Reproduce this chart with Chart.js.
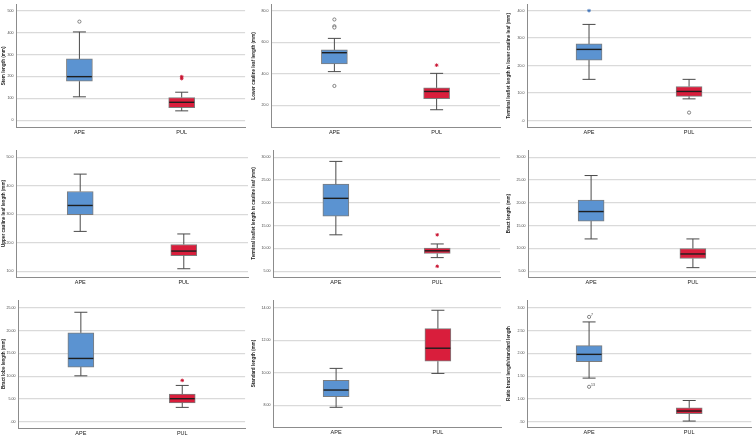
<!DOCTYPE html>
<html><head><meta charset="utf-8">
<script src="https://cdn.jsdelivr.net/npm/chart.js@4"></script>
<style>
html,body{margin:0;padding:0;background:#fff;width:756px;height:435px;overflow:hidden;position:relative;}
canvas{position:absolute;}
</style></head><body>
<script>
const categories = ['APE', 'PUL'];
const axisTitles = [
  'Stem length (mm)',
  'Lower cauline leaf length (mm)',
  'Terminal leaflet length in lower cauline leaf (mm)',
  'Upper cauline leaf length (mm)',
  'Terminal leaflet length in cauline leaf (mm)',
  'Bract length (mm)',
  'Bract lobe length (mm)',
  'Standard length (mm)',
  'Ratio bract length/standard length'
];
// box statistics: [lower whisker, Q1, median, Q3, upper whisker]
const stemAPE = [107, 178, 199, 280, 403];
const stemPUL = [43, 58, 82, 104, 128];
const lowerLeafAPE = [41.3, 46.2, 53.3, 55.1, 62.4];
const lowerLeafPUL = [17.1, 24.1, 28.7, 31.0, 40.2];
const lowerTermAPE = [15.0, 22.0, 25.9, 27.9, 35.0];
const lowerTermPUL = [7.9, 8.8, 10.6, 12.4, 15.0];
const upperLeafAPE = [24.0, 29.9, 33.1, 38.0, 44.1];
const upperLeafPUL = [10.9, 15.5, 17.1, 19.4, 23.1];
const caulTermAPE = [13.0, 17.1, 21.0, 24.1, 29.1];
const caulTermPUL = [8.0, 8.9, 9.5, 10.1, 11.0];
const bractAPE = [12.1, 16.0, 18.1, 20.6, 26.0];
const bractPUL = [5.8, 7.8, 8.8, 10.0, 12.1];
const lobeAPE = [10.1, 12.0, 13.9, 19.5, 24.0];
const lobePUL = [3.2, 4.2, 5.1, 6.1, 8.0];
const standardAPE = [7.88, 8.53, 8.94, 9.53, 10.27];
const standardPUL = [9.96, 10.71, 11.51, 12.71, 13.84];
const ratioAPE = [1.46, 1.82, 1.98, 2.17, 2.69];
const ratioPUL = [0.52, 0.68, 0.74, 0.81, 0.97];
// outliers (circles) and extreme values (stars)
const stemOutAPE = [450];
const stemExtPUL = [199, 190];
const lowerLeafOutAPE = [74.4, 70.1, 69.3, 32.2];
const lowerLeafExtPUL = [45.4];
const lowerTermExtAPE = [40.0];
const lowerTermOutPUL = [2.9];
const caulTermExtPUL = [13.0, 6.1];
const lobeExtPUL = [9.1];
const ratioOutAPE = [2.80, 1.27];
const ratioOutLabels = ['7', '13'];
// tick values and labels
const stemTicks = [0, 100, 200, 300, 400, 500];
const stemTickLabels = ['0', '100', '200', '300', '400', '500'];
const lowerLeafTicks = [20, 40, 60, 80];
const lowerLeafTickLabels = ['20.0', '40.0', '60.0', '80.0'];
const lowerTermTicks = [0, 10, 20, 30, 40];
const lowerTermTickLabels = ['.0', '10.0', '20.0', '30.0', '40.0'];
const upperLeafTicks = [10, 20, 30, 40, 50];
const upperLeafTickLabels = ['10.0', '20.0', '30.0', '40.0', '50.0'];
const caulTermTicks = [5, 10, 15, 20, 25, 30];
const caulTermTickLabels = ['5.00', '10.00', '15.00', '20.00', '25.00', '30.00'];
const bractTicks = [5, 10, 15, 20, 25, 30];
const bractTickLabels = ['5.00', '10.00', '15.00', '20.00', '25.00', '30.00'];
const lobeTicks = [0, 5, 10, 15, 20, 25];
const lobeTickLabels = ['.00', '5.00', '10.00', '15.00', '20.00', '25.00'];
const standardTicks = [8, 10, 12, 14];
const standardTickLabels = ['8.00', '10.00', '12.00', '14.00'];
const ratioTicks = [0.5, 1, 1.5, 2, 2.5, 3];
const ratioTickLabels = ['.50', '1.00', '1.50', '2.00', '2.50', '3.00'];

const panels = [
  {ape: stemAPE, pul: stemPUL, outA: stemOutAPE, outP: [], extA: [], extP: stemExtPUL, ticks: stemTicks, labels: stemTickLabels, range: [-30.7, 526.3]},
  {ape: lowerLeafAPE, pul: lowerLeafPUL, outA: lowerLeafOutAPE, outP: [], extA: [], extP: lowerLeafExtPUL, ticks: lowerLeafTicks, labels: lowerLeafTickLabels, range: [6.14, 83.66]},
  {ape: lowerTermAPE, pul: lowerTermPUL, outA: [], outP: lowerTermOutPUL, extA: lowerTermExtAPE, extP: [], ticks: lowerTermTicks, labels: lowerTermTickLabels, range: [-2.34, 42.1]},
  {ape: upperLeafAPE, pul: upperLeafPUL, outA: [], outP: [], extA: [], extP: [], ticks: upperLeafTicks, labels: upperLeafTickLabels, range: [8.0, 52.56]},
  {ape: caulTermAPE, pul: caulTermPUL, outA: [], outP: [], extA: [], extP: caulTermExtPUL, ticks: caulTermTicks, labels: caulTermTickLabels, range: [3.75, 31.6]},
  {ape: bractAPE, pul: bractPUL, outA: [], outP: [], extA: [], extP: [], ticks: bractTicks, labels: bractTickLabels, range: [3.75, 31.6]},
  {ape: lobeAPE, pul: lobePUL, outA: [], outP: [], extA: [], extP: lobeExtPUL, ticks: lobeTicks, labels: lobeTickLabels, range: [-1.31, 26.68]},
  {ape: standardAPE, pul: standardPUL, outA: [], outP: [], extA: [], extP: [], ticks: standardTicks, labels: standardTickLabels, range: [6.67, 14.47]},
  {ape: ratioAPE, pul: ratioPUL, outA: ratioOutAPE, outP: [], extA: [], extP: [], ticks: ratioTicks, labels: ratioTickLabels, range: [0.39, 3.17], outLabels: ratioOutLabels}
];

// layout geometry: canvas columns/rows, plot [l, t, r, b] in page pixels
const colLeft = [0, 250, 505], colW = [250, 255, 251];
const rowTop = [0, 142, 287], rowH = [142, 145, 148];
const plots = [
  [16, 0, 247, 127], [271, 0, 500, 127], [527, 0, 756, 127],
  [16, 150, 248, 277], [273, 150, 501, 277], [528, 150, 756, 277],
  [18, 300, 249, 428], [273, 300, 501, 427], [527, 300, 756, 427]
];

const BLUE = '#5b93d1', RED = '#d91e3c';
const FONT = "'Liberation Sans', Arial, sans-serif";

function makeBoxPlugin(p) {
  return {
    id: 'boxWhiskers',
    afterDatasetsDraw(chart) {
      const {ctx, scales: {x, y}} = chart;
      const boxW = 26, capW = 13;
      [p.ape, p.pul].forEach((s, i) => {
        const cx = x.getPixelForValue(i);
        const yMin = y.getPixelForValue(s[0]), yQ1 = y.getPixelForValue(s[1]);
        const yMed = y.getPixelForValue(s[2]), yQ3 = y.getPixelForValue(s[3]);
        const yMax = y.getPixelForValue(s[4]);
        ctx.save();
        ctx.strokeStyle = '#4a4a4a';
        ctx.lineWidth = 1;
        ctx.beginPath();
        ctx.moveTo(cx, yQ3); ctx.lineTo(cx, yMax);
        ctx.moveTo(cx, yQ1); ctx.lineTo(cx, yMin);
        ctx.moveTo(cx - capW / 2, yMax); ctx.lineTo(cx + capW / 2, yMax);
        ctx.moveTo(cx - capW / 2, yMin); ctx.lineTo(cx + capW / 2, yMin);
        ctx.stroke();
        ctx.strokeStyle = '#1e1e1e';
        ctx.lineWidth = 1.4;
        ctx.beginPath();
        ctx.moveTo(cx - boxW / 2 + 0.5, yMed); ctx.lineTo(cx + boxW / 2 - 0.5, yMed);
        ctx.stroke();
        ctx.restore();
      });
      if (p.outLabels) {
        ctx.save();
        ctx.fillStyle = '#444';
        ctx.font = '3.5px ' + FONT;
        ctx.textAlign = 'left';
        ctx.textBaseline = 'alphabetic';
        const cx = x.getPixelForValue(0);
        p.outA.forEach((v, k) => {
          ctx.fillText(p.outLabels[k], cx + 2, y.getPixelForValue(v) - 1);
        });
        ctx.restore();
      }
    }
  };
}

panels.forEach((p, idx) => {
  const col = idx % 3, row = Math.floor(idx / 3);
  const cl = colLeft[col], ct = rowTop[row], cw = colW[col], ch = rowH[row];
  const [pl, pt, pr, pb] = plots[idx];
  const canvas = document.createElement('canvas');
  canvas.width = cw; canvas.height = ch;
  canvas.style.left = cl + 'px'; canvas.style.top = ct + 'px';
  canvas.style.width = cw + 'px'; canvas.style.height = ch + 'px';
  document.body.appendChild(canvas);

  const pts = (arr, i) => arr.map(v => ({x: i, y: v}));
  new Chart(canvas, {
    type: 'bar',
    data: {
      datasets: [
        {
          type: 'bar',
          data: [{x: 0, y: [p.ape[1], p.ape[3]]}, {x: 1, y: [p.pul[1], p.pul[3]]}],
          backgroundColor: [BLUE, RED],
          borderColor: '#7d7d7d',
          borderWidth: 1,
          borderSkipped: false,
          barThickness: 26,
          order: 2
        },
        {
          type: 'scatter',
          data: pts(p.outA, 0).concat(pts(p.outP, 1)),
          pointStyle: 'circle', pointRadius: 1.6,
          borderColor: '#555', backgroundColor: '#fff', borderWidth: 0.7,
          order: 1
        },
        {
          type: 'scatter',
          data: pts(p.extA, 0),
          pointStyle: 'star', pointRadius: 1.8,
          borderColor: '#3f73b8', backgroundColor: '#3f73b8', borderWidth: 0.9,
          order: 1
        },
        {
          type: 'scatter',
          data: pts(p.extP, 1),
          pointStyle: 'star', pointRadius: 1.8,
          borderColor: '#c8102e', backgroundColor: '#c8102e', borderWidth: 0.9,
          order: 1
        }
      ]
    },
    options: {
      responsive: false,
      animation: false,
      events: [],
      devicePixelRatio: 1,
      layout: {padding: {top: pt - ct, right: cl + cw - pr, left: 0, bottom: 0}},
      plugins: {legend: {display: false}, tooltip: {enabled: false}},
      scales: {
        x: {
          type: 'linear',
          offset: false,
          min: -0.62, max: 1.62,
          grid: {display: false, drawTicks: false},
          border: {display: true, color: '#8c8c8c', width: 1},
          afterBuildTicks: s => { s.ticks = [{value: 0}, {value: 1}]; },
          afterFit: s => { s.height = ct + ch - pb; s.paddingLeft = 0; s.paddingRight = 0; },
          ticks: {
            callback: v => categories[v],
            font: {family: FONT, size: 5.5},
            color: '#222',
            padding: 2.5,
            maxRotation: 0, autoSkip: false
          }
        },
        y: {
          type: 'linear',
          min: p.range[0], max: p.range[1],
          grid: {color: '#dadada', lineWidth: 1.3, drawTicks: false},
          border: {display: true, color: '#8c8c8c', width: 1},
          afterBuildTicks: s => { s.ticks = p.ticks.map(v => ({value: v})); },
          afterFit: s => { s.width = pl - cl; s.paddingTop = 0; s.paddingBottom = 0; },
          ticks: {
            callback: (v, i) => p.labels[i],
            font: {family: FONT, size: 3.6},
            color: '#444',
            padding: 2.5,
            autoSkip: false
          },
          title: {
            display: true,
            text: axisTitles[idx],
            font: {family: FONT, size: 4.6, weight: 'bold'},
            color: '#222',
            padding: {top: 0.5, bottom: 0}
          }
        }
      }
    },
    plugins: [makeBoxPlugin(p)]
  });
});
</script>
</body></html>
